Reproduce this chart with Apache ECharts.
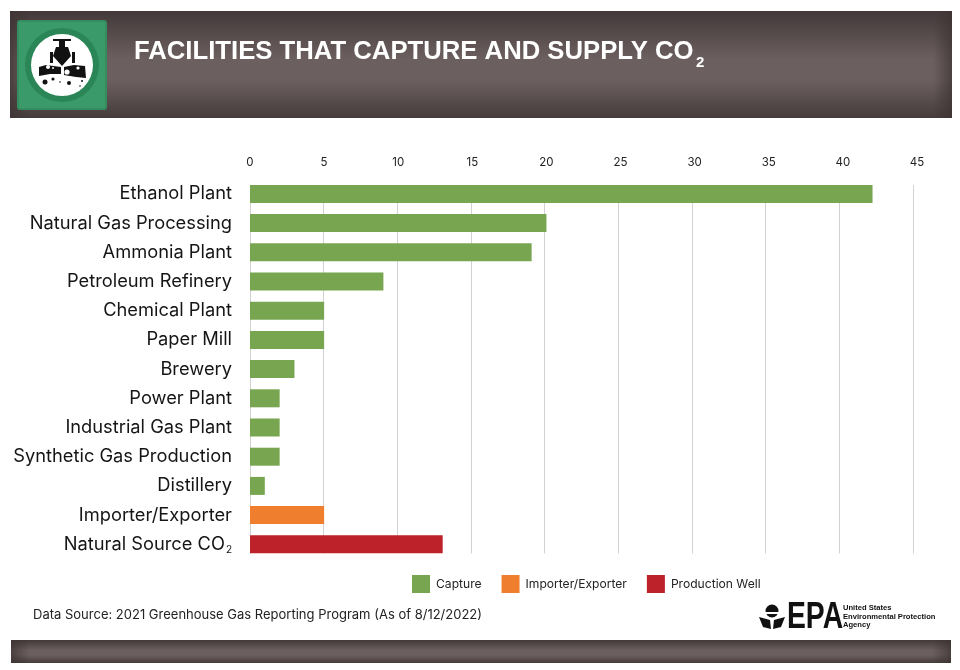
<!DOCTYPE html>
<html>
<head>
<meta charset="utf-8">
<style>
  html, body { margin: 0; padding: 0; background: #fff; }
  #chart { width: 960px; height: 670px; }
</style>
<script src="https://cdn.jsdelivr.net/npm/echarts@6/dist/echarts.min.js"></script>
</head>
<body>
<div id="chart"></div>
<script>
const FONT = 'Inter, "Liberation Sans", sans-serif';

// top to bottom, as in the picture
const rows = [
  { name: 'Ethanol Plant', value: 42, type: 'Capture' },
  { name: 'Natural Gas Processing', value: 20, type: 'Capture' },
  { name: 'Ammonia Plant', value: 19, type: 'Capture' },
  { name: 'Petroleum Refinery', value: 9, type: 'Capture' },
  { name: 'Chemical Plant', value: 5, type: 'Capture' },
  { name: 'Paper Mill', value: 5, type: 'Capture' },
  { name: 'Brewery', value: 3, type: 'Capture' },
  { name: 'Power Plant', value: 2, type: 'Capture' },
  { name: 'Industrial Gas Plant', value: 2, type: 'Capture' },
  { name: 'Synthetic Gas Production', value: 2, type: 'Capture' },
  { name: 'Distillery', value: 1, type: 'Capture' },
  { name: 'Importer/Exporter', value: 5, type: 'Importer/Exporter' },
  { name: 'Natural Source CO2', value: 13, type: 'Production Well' }
];
const colors = { 'Capture': '#78a650', 'Importer/Exporter': '#ef7f2f', 'Production Well': '#bd2129' };

const series = Object.keys(colors).map(type => ({
  name: type,
  type: 'bar',
  stack: 'all',
  barWidth: 18,
  z: 3,
  itemStyle: { color: colors[type] },
  data: rows.map(r => r.type === type ? r.value : null)
}));

// dark band with shaded edges, header and footer share it
function band(x, y, w, h) {
  return [
    { type: 'rect', shape: { x, y, width: w, height: h }, z: 5,
      style: { fill: { type: 'linear', x: 0, y: 0, x2: 0, y2: 1, colorStops: [
        { offset: 0, color: '#43393a' }, { offset: 0.45, color: '#6c5f5f' }, { offset: 0.65, color: '#6c5f5f' }, { offset: 1, color: '#463c3c' }
      ] } } },
    { type: 'rect', shape: { x, y, width: w, height: h }, z: 5,
      style: { fill: { type: 'linear', x: 0, y: 0, x2: 1, y2: 0, colorStops: [
        { offset: 0, color: 'rgba(60,50,50,0.7)' }, { offset: 0.02, color: 'rgba(60,50,50,0)' },
        { offset: 0.98, color: 'rgba(60,50,50,0)' }, { offset: 1, color: 'rgba(60,50,50,0.7)' }
      ] } } }
  ];
}

function dots(list, fill) {
  return list.map(d => ({ type: 'circle', shape: { cx: d[0], cy: d[1], r: d[2] }, z: 8, style: { fill } }));
}

const icon = [
  { type: 'rect', shape: { x: 18, y: 21, width: 88, height: 88, r: 2 }, z: 6, style: { fill: '#3b9a69', stroke: '#348c5f', lineWidth: 2 } },
  { type: 'circle', shape: { cx: 62, cy: 65, r: 37 }, z: 7, style: { fill: '#2a8657' } },
  { type: 'circle', shape: { cx: 62, cy: 65, r: 31 }, z: 7, style: { fill: '#fff' } },
  // valve
  { type: 'rect', shape: { x: 53, y: 39, width: 18, height: 2 }, z: 8, style: { fill: '#111' } },
  { type: 'rect', shape: { x: 59, y: 41, width: 6, height: 6 }, z: 8, style: { fill: '#111' } },
  { type: 'polygon', shape: { points: [[56, 47], [68, 47], [71, 56], [62, 66], [53, 56]] }, z: 8, style: { fill: '#111' } },
  { type: 'rect', shape: { x: 50, y: 52, width: 3, height: 11 }, z: 8, style: { fill: '#111' } },
  { type: 'rect', shape: { x: 72, y: 52, width: 3, height: 11 }, z: 8, style: { fill: '#111' } },
  // tanks
  { type: 'polygon', shape: { points: [[39, 67], [46, 65], [61, 67], [61, 74], [50, 74], [39, 76]] }, z: 8, style: { fill: '#111' } },
  { type: 'polygon', shape: { points: [[64, 67], [74, 65], [85, 66], [86, 78], [76, 77], [64, 75]] }, z: 8, style: { fill: '#111' } }
].concat(
  dots([[48, 67, 2], [53, 68, 1], [67, 72, 2.6], [78, 68, 1.6]], '#fff'),
  dots([[45, 82, 2.5], [53, 79, 1.6], [60, 82, 0.8], [69, 83, 2], [82, 81, 1], [80, 86, 0.8]], '#111')
);

const epaMark = [
  { type: 'circle', shape: { cx: 772, cy: 611, r: 6.5 }, z: 8, style: { fill: '#111' } },
  { type: 'rect', shape: { x: 763, y: 612, width: 18, height: 2 }, z: 8, style: { fill: '#fff' } },
  { type: 'polygon', shape: { points: [[759, 617], [770, 620], [771, 629], [763, 627]] }, z: 8, style: { fill: '#111' } },
  { type: 'polygon', shape: { points: [[785, 617], [774, 620], [773, 629], [781, 627]] }, z: 8, style: { fill: '#111' } }
];

const chart = echarts.init(document.getElementById('chart'));
chart.setOption({
  animation: false,
  backgroundColor: '#fff',
  textStyle: { fontFamily: FONT },
  grid: [
    { left: 250, top: 179.3, width: 667, height: 379.6 },
    // the gridlines in the original run on a slightly tighter scale than the bars
    { left: 250, top: 179.3, width: 663, height: 379.6 }
  ],
  xAxis: [
    {
      type: 'value',
      position: 'top',
      min: 0,
      max: 45,
      interval: 5,
      axisLine: { show: false },
      axisTick: { show: false },
      axisLabel: { fontSize: 11.5, color: '#222', margin: 11, fontFamily: FONT },
      splitLine: { show: false }
    },
    {
      type: 'value',
      gridIndex: 1,
      position: 'top',
      min: 0,
      max: 45,
      interval: 5,
      axisLine: { show: false },
      axisTick: { show: false },
      axisLabel: { show: false },
      splitLine: { lineStyle: { color: '#d2d2d2', width: 1 } }
    }
  ],
  yAxis: [
    {
      type: 'category',
      inverse: true,
      data: rows.map(r => r.name),
      axisLine: { show: false },
      axisTick: { show: false },
      axisLabel: {
        fontSize: 18.3,
        color: '#151515',
        margin: 18,
        fontFamily: FONT,
        formatter: v => v.endsWith('CO2') ? v.slice(0, -1) + '{sub|2}' : v,
        rich: { sub: { fontSize: 10, fontFamily: FONT, color: '#151515', verticalAlign: 'bottom', padding: [12, 0, 0, 1] } }
      }
    },
    { type: 'category', gridIndex: 1, inverse: true, data: rows.map(r => r.name), show: false }
  ],
  legend: {
    left: 412,
    top: 575,
    padding: 0,
    itemWidth: 18,
    itemHeight: 18,
    itemGap: 20,
    textStyle: { fontSize: 12.1, color: '#222', fontFamily: FONT, padding: [0, 0, 0, 1] },
    icon: 'rect',
    data: Object.keys(colors)
  },
  series,
  graphic: { elements: [
    // trims the gridlines to the span of the bars
    { type: 'rect', shape: { x: 245, y: 172, width: 675, height: 13 }, z: 1, style: { fill: '#fff' } },
    { type: 'rect', shape: { x: 245, y: 553.5, width: 675, height: 8 }, z: 1, style: { fill: '#fff' } }
  ].concat(
    band(10, 11, 942, 107),
    band(11, 640, 940, 23),
    icon,
    epaMark,
    [
      { type: 'text', x: 134, y: 38.5, z: 8, style: {
        text: 'FACILITIES THAT CAPTURE AND SUPPLY CO', fill: '#fff',
        font: 'bold 25.7px "Liberation Sans", sans-serif' } },
      { type: 'text', x: 696, y: 55.5, z: 8, style: { text: '2', fill: '#fff', font: 'bold 15px "Liberation Sans", sans-serif' } },
      { type: 'text', x: 33, y: 609, z: 8, style: {
        text: 'Data Source: 2021 Greenhouse Gas Reporting Program (As of 8/12/2022)', fill: '#222',
        font: '13px ' + FONT } },
      { type: 'text', x: 787, y: 600, scaleX: 0.786, z: 8, originX: 0, style: { text: 'EPA', fill: '#111', font: 'bold 36px "Liberation Sans", sans-serif' } },
      { type: 'text', x: 843, y: 604, z: 8, style: {
        text: 'United States\nEnvironmental Protection\nAgency', fill: '#111', lineHeight: 8.5,
        font: 'bold 7.6px "Liberation Sans", sans-serif' } }
    ]
  ) }
});
</script>
</body>
</html>
